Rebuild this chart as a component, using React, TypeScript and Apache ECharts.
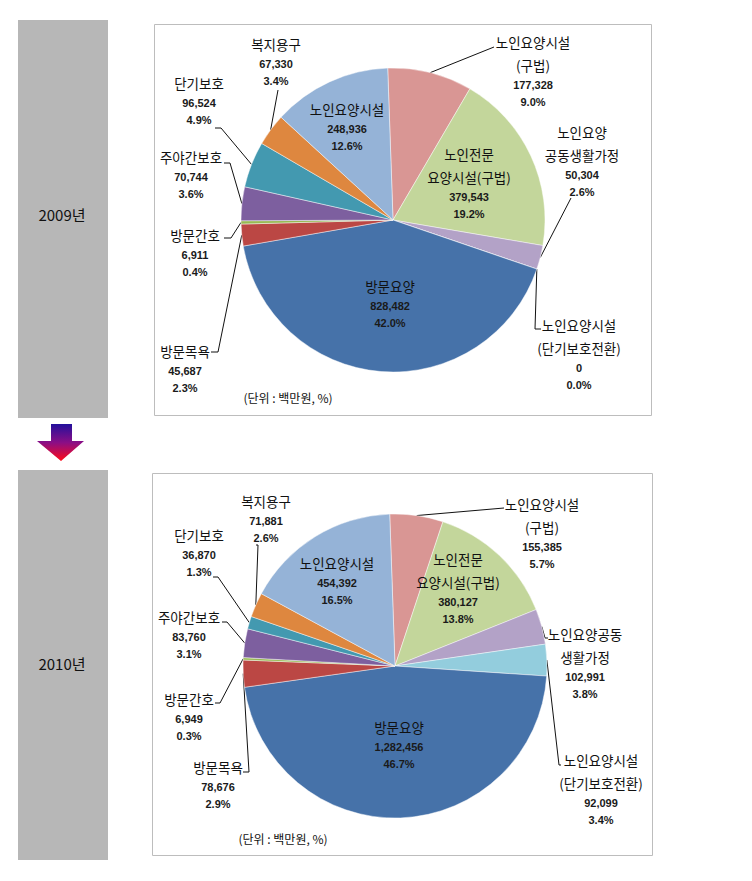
import React, { useEffect, useRef } from 'react';
import * as echarts from 'echarts';

const categories = [
  '노인요양시설(구법)', '노인전문요양시설(구법)', '노인요양공동생활가정', '노인요양시설(단기보호전환)',
  '방문요양', '방문목욕', '방문간호', '주야간보호', '단기보호', '복지용구', '노인요양시설',
];
const values2009 = [177328, 379543, 50304, 0, 828482, 45687, 6911, 70744, 96524, 67330, 248936];
const values2010 = [155385, 380127, 102991, 92099, 1282456, 78676, 6949, 83760, 36870, 71881, 454392];
const labelNames2009 = [
  '노인요양시설\n(구법)', '노인전문\n요양시설(구법)', '노인요양\n공동생활가정', '노인요양시설\n(단기보호전환)',
  '방문요양', '방문목욕', '방문간호', '주야간보호', '단기보호', '복지용구', '노인요양시설',
];
const labelNames2010 = [
  '노인요양시설\n(구법)', '노인전문\n요양시설(구법)', '노인요양공동\n생활가정', '노인요양시설\n(단기보호전환)',
  '방문요양', '방문목욕', '방문간호', '주야간보호', '단기보호', '복지용구', '노인요양시설',
];
const years = ['2009년', '2010년'];
const unitNote = '(단위 : 백만원, %)';
const sliceColors = [
  '#D99694', '#C3D69B', '#B3A2C7', '#93CDDD', '#4672A9', '#BB4744',
  '#98B954', '#7D5F9F', '#4399B0', '#DE873F', '#95B3D7',
];

// label layout (positions only): x, first-line center y, leader line points after the slice anchor
type LL = { x: number; y: number; inside?: boolean; line?: number[][] };
const layout2009: LL[] = [
  { x: 533, y: 42, line: [[494, 47]] },
  { x: 469, y: 154, inside: true },
  { x: 582, y: 132, line: [[571, 198]] },
  { x: 579, y: 325, line: [[535, 329], [541, 329]] },
  { x: 390, y: 286, inside: true },
  { x: 185, y: 351, line: [[218, 352], [211, 352]] },
  { x: 195, y: 235, line: [[231, 238], [224, 238]] },
  { x: 191, y: 157, line: [[230, 163], [224, 163]] },
  { x: 199, y: 83, line: [[221, 128], [215, 128]] },
  { x: 276, y: 44, line: [[278, 90]] },
  { x: 347, y: 109, inside: true },
];
const layout2010: LL[] = [
  { x: 542, y: 504, line: [[504, 508]] },
  { x: 458, y: 559, inside: true },
  { x: 585, y: 634, line: [[545, 638], [548, 638]] },
  { x: 601, y: 760, line: [[559, 765], [561, 765]] },
  { x: 399, y: 727, inside: true },
  { x: 218, y: 767, line: [[249, 772], [243, 772]] },
  { x: 189, y: 699, line: [[220, 703], [215, 703]] },
  { x: 189, y: 617, line: [[227, 622], [222, 622]] },
  { x: 199, y: 535, line: [[218, 577], [213, 577]] },
  { x: 266, y: 501, line: [[258, 545], [256, 545]] },
  { x: 337, y: 563, inside: true },
];

const N_LH = 23;
const V_LH = 17;
const START_ANGLE = 92;
const RADIUS = 152;

function makeSeries(values: number[], names: string[], lay: LL[], center: number[]) {
  const sum = values.reduce((a, b) => a + b, 0);
  return {
    type: 'pie',
    center,
    radius: RADIUS,
    startAngle: START_ANGLE,
    clockwise: true,
    avoidLabelOverlap: false,
    silent: true,
    itemStyle: { borderColor: 'rgba(255,255,255,0.75)', borderWidth: 0.6 },
    label: {
      color: '#111',
      formatter: (p: any) => {
        const i = p.dataIndex;
        const nm = names[i].split('\n').map((s) => `{n|${s}}`).join('\n');
        const pct = ((values[i] / sum) * 100).toFixed(1);
        return `${nm}\n{v|${values[i].toLocaleString('en-US')}}\n{v|${pct}%}`;
      },
      rich: {
        n: { fontFamily: 'Noto Sans CJK KR', fontSize: 13.5, lineHeight: N_LH, color: '#111', align: 'center' },
        v: { fontFamily: 'Liberation Sans', fontSize: 11, fontWeight: 'bold', lineHeight: V_LH, color: '#1a1a1a', align: 'center' },
      },
    },
    labelLine: { show: true, lineStyle: { color: '#111', width: 1 }, length: 10, length2: 10 },
    labelLayout: (params: any) => {
      const i = params.dataIndex;
      const L = lay[i];
      const res: any = { x: L.x, y: L.y - N_LH / 2, align: 'center', verticalAlign: 'top' };
      if (L.line) {
        let p0: number[];
        if (params.labelLinePoints && params.labelLinePoints[0]) {
          p0 = [params.labelLinePoints[0][0], params.labelLinePoints[0][1]];
        } else {
          let cum = 0;
          for (let k = 0; k < i; k++) cum += values[k];
          const a = ((START_ANGLE - (360 * (cum + values[i] / 2)) / sum) * Math.PI) / 180;
          p0 = [center[0] + RADIUS * Math.cos(a), center[1] - RADIUS * Math.sin(a)];
        }
        res.labelLinePoints = [p0, ...L.line.map((q) => [q[0], q[1]])];
      }
      return res;
    },
    data: values.map((v, i) => ({
      name: categories[i],
      value: v,
      itemStyle: { color: sliceColors[i] },
      label: { position: lay[i].inside ? 'inside' : 'outside' },
      labelLine: { show: !lay[i].inside },
    })),
  };
}

export default function App() {
  const ref = useRef<HTMLDivElement>(null);
  useEffect(() => {
    if (!ref.current) return;
    const chart = echarts.init(ref.current, null, { renderer: 'svg' });
    const grayText = {
      fontFamily: 'Noto Sans CJK KR',
      fontSize: 15,
      fill: '#111',
      align: 'center',
      verticalAlign: 'middle',
    };
    chart.setOption({
      animation: false,
      backgroundColor: '#fff',
      graphic: [
        { type: 'rect', z: -10, shape: { x: 18, y: 20, width: 90, height: 398 }, style: { fill: '#B7B7B7' } },
        { type: 'rect', z: -10, shape: { x: 18, y: 470, width: 90, height: 390 }, style: { fill: '#B7B7B7' } },
        { type: 'text', x: 62, y: 214, style: { ...grayText, text: years[0] } },
        { type: 'text', x: 62, y: 663, style: { ...grayText, text: years[1] } },
        {
          type: 'polygon',
          shape: { points: [[51, 424], [72, 424], [72, 441], [84, 441], [61, 461], [37, 441], [51, 441]] },
          style: {
            fill: new echarts.graphic.LinearGradient(0, 0, 0, 1, [
              { offset: 0, color: '#23109C' },
              { offset: 0.5, color: '#8A0E86' },
              { offset: 1, color: '#FF0A18' },
            ]),
          },
        },
        { type: 'rect', z: -10, shape: { x: 154.5, y: 24.5, width: 497, height: 391 }, style: { fill: 'transparent', stroke: '#BDBDBD', lineWidth: 1 } },
        { type: 'rect', z: -10, shape: { x: 152.5, y: 473.5, width: 500, height: 382 }, style: { fill: 'transparent', stroke: '#BDBDBD', lineWidth: 1 } },
        { type: 'text', x: 288, y: 397, style: { text: unitNote, fontFamily: 'Noto Sans CJK KR', fontSize: 12, fill: '#111', align: 'center', verticalAlign: 'middle' } },
        { type: 'text', x: 283, y: 838, style: { text: unitNote, fontFamily: 'Noto Sans CJK KR', fontSize: 12, fill: '#111', align: 'center', verticalAlign: 'middle' } },
      ],
      series: [
        makeSeries(values2009, labelNames2009, layout2009, [393, 220]),
        makeSeries(values2010, labelNames2010, layout2010, [395, 666]),
      ],
    });
    return () => chart.dispose();
  }, []);
  return (
    <div
      ref={ref}
      style={{ position: 'absolute', left: 0, top: 0, width: 752, height: 881, background: '#fff' }}
    />
  );
}
